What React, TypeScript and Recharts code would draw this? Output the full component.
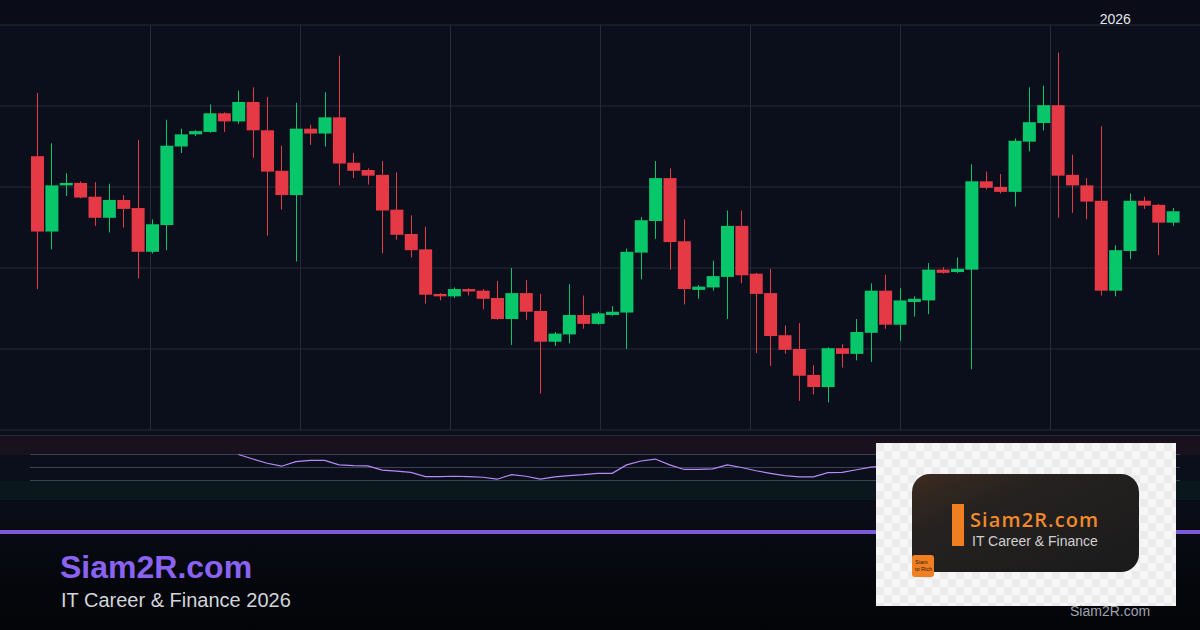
import { ComposedChart, Bar, Line, XAxis, YAxis, CartesianGrid, ReferenceLine } from 'recharts'

const FONT = "'Liberation Sans', Arial, sans-serif"
const BG = '#0b0e1b'
const GRID = '#262b3b'
const UP = '#08c76a'
const DOWN = '#e63946'
const RSI_TOP = 435
const RSI_H = 65

// daily candles (grid step = 10)
const opens = [
  83.8, 74.5, 80.2, 80.5, 78.8, 76.2, 78.4, 77.4, 72.0, 75.3,
  85.0, 86.5, 86.8, 89.1, 88.1, 90.5, 87.0, 82.0, 79.0, 87.2,
  86.6, 88.6, 83.0, 82.1, 81.5, 77.2, 74.2, 72.3, 66.8, 66.5,
  67.4, 67.2, 66.3, 63.7, 66.9, 64.7, 60.9, 61.8, 64.2, 63.1,
  64.2, 64.5, 71.9, 75.8, 81.1, 73.3, 67.3, 67.6, 68.9, 75.2,
  69.3, 66.9, 61.7, 60.0, 56.8, 55.3, 60.1, 59.4, 62.0, 67.2,
  63.0, 65.8, 66.0, 69.8, 69.5, 69.8, 80.7, 80.0, 79.4, 85.6,
  87.9, 90.1, 81.5, 80.2, 78.3, 67.2, 72.1, 78.3, 77.8, 75.6,
]
const highs = [
  91.6, 85.4, 81.7, 80.7, 80.6, 80.4, 79.0, 85.8, 76.0, 88.3,
  87.2, 87.0, 90.2, 89.2, 91.9, 92.3, 91.1, 85.1, 90.4, 87.7,
  91.7, 96.2, 84.2, 82.3, 83.2, 81.8, 76.5, 75.1, 66.9, 67.6,
  67.5, 67.4, 68.4, 70.0, 68.5, 66.8, 62.1, 68.0, 66.6, 64.6,
  65.3, 72.4, 76.3, 83.2, 82.3, 76.0, 67.9, 70.9, 77.1, 77.1,
  69.4, 69.9, 62.9, 63.2, 58.0, 60.2, 60.6, 63.7, 68.1, 69.2,
  67.5, 66.5, 70.6, 70.1, 71.3, 82.8, 81.9, 81.6, 86.0, 92.3,
  92.5, 96.6, 84.0, 81.1, 87.5, 72.8, 79.2, 78.8, 77.9, 77.4,
]
const lows = [
  67.4, 72.3, 78.9, 78.6, 75.2, 74.4, 75.0, 68.7, 71.8, 72.2,
  84.2, 86.3, 86.7, 86.8, 87.8, 83.6, 74.0, 77.2, 70.8, 85.2,
  85.0, 80.2, 81.1, 80.3, 71.8, 73.5, 71.3, 65.6, 66.0, 66.3,
  66.6, 64.9, 63.6, 60.5, 63.6, 54.5, 60.4, 60.7, 62.5, 63.0,
  64.1, 60.0, 68.6, 73.6, 69.8, 65.5, 66.2, 67.2, 63.7, 68.1,
  59.5, 57.9, 59.4, 53.6, 54.4, 53.4, 57.7, 58.6, 58.4, 62.5,
  61.0, 64.0, 64.3, 69.3, 69.4, 57.5, 79.7, 79.2, 77.6, 84.4,
  87.0, 76.2, 76.8, 76.0, 66.6, 66.5, 71.1, 77.3, 71.6, 75.2,
]
const closes = [
  74.5, 80.2, 80.5, 78.7, 76.2, 78.4, 77.3, 72.0, 75.4, 85.1,
  86.5, 86.9, 89.1, 88.1, 90.5, 87.0, 81.9, 79.0, 87.2, 86.6,
  88.6, 82.9, 82.0, 81.4, 77.1, 74.1, 72.2, 66.7, 66.5, 67.4,
  67.1, 66.2, 63.7, 66.9, 64.6, 60.9, 61.9, 64.2, 63.1, 64.4,
  64.6, 72.0, 75.9, 81.1, 73.2, 67.4, 67.7, 69.0, 75.2, 69.1,
  66.8, 61.6, 59.9, 56.7, 55.3, 60.1, 59.4, 62.1, 67.2, 63.0,
  66.0, 66.2, 69.8, 69.4, 69.9, 80.7, 79.9, 79.4, 85.7, 88.0,
  90.1, 81.4, 80.2, 78.2, 67.2, 72.2, 78.3, 77.7, 75.6, 77.0,
]

// RSI(14), first value on the 15th candle
const rsi: (number | null)[] = [
  null, null, null, null, null, null, null, null, null, null, null, null, null, null,
  70, 63, 56.5, 52, 59, 61, 61, 54, 53, 52.5,
  46, 44.5, 42.5, 36, 36, 36.5, 36, 35, 32, 39,
  36.5, 32, 35.5, 37.5, 39, 41, 41, 54, 60, 63,
  54, 47, 47, 48, 54, 50, 45, 41, 37.5, 35.5,
  35.5, 42, 42.5, 46.5, 50.5, 52, 51, 53, 53, 56,
  55, 55, 64, 63, 62, 67, 69, 71, 58, 56,
  53, 44, 49, 54, 53, 55,
]

const priceTicks = [50, 60, 70, 80, 90, 100]
// time grid: 8 equal periods across the full width
const timeTicks = [1, 2, 3, 4, 5, 6, 7]
const TIME_SPAN = 8
const rsiLevels = [70, 50, 30]
const yearMarks = [{ index: 75, label: '2026' }]

const Candle = (props: any) => {
  const { x, y, width, height, payload } = props
  const { open, close, high, low } = payload
  const top = Math.min(y, y + height)
  const h = Math.abs(height)
  const k = h / (high - low)
  const py = (v: number) => top + (high - v) * k
  const color = close >= open ? UP : DOWN
  const bodyTop = py(Math.max(open, close))
  const bodyBot = py(Math.min(open, close))
  const cx = Math.floor(x + width / 2) + 0.5
  return (
    <g>
      <line x1={cx} x2={cx} y1={top} y2={top + h} stroke={color} strokeWidth={1} />
      <rect x={x} y={bodyTop} width={width} height={Math.max(1.5, bodyBot - bodyTop)} fill={color} />
    </g>
  )
}

export default function App() {
  const candles = opens.map((open, i) => ({
    i,
    open,
    high: highs[i],
    low: lows[i],
    close: closes[i],
    range: [lows[i], highs[i]],
  }))
  const rsiData = rsi.map((v, i) => ({ x: i + 0.5, rsi: v }))
  const yearTicks = yearMarks.map((m) => m.index)
  const yearLabel = (v: number) => yearMarks.find((m) => m.index === v)?.label ?? ''
  const rsiY = (v: number) => RSI_TOP + ((100 - v) / 100) * RSI_H
  const timeLines = ({ offset }: any) =>
    timeTicks.map((t) => Math.round(offset.left + (t / TIME_SPAN) * offset.width) + 0.5)

  return (
    <div
      style={{
        position: 'fixed',
        left: 0,
        top: 0,
        width: 1200,
        height: 630,
        overflow: 'hidden',
        background: BG,
        fontFamily: FONT,
      }}
    >
      <div style={{ position: 'absolute', left: 0, top: 0, width: 1200, height: 25, background: '#0a0d18' }} />

      <div style={{ position: 'absolute', left: 0, top: 0 }}>
        <ComposedChart width={1200} height={432} data={candles} margin={{ top: 0, right: 0, bottom: 2, left: 0 }}>
          <XAxis
            dataKey="i"
            orientation="top"
            height={25}
            padding={{ left: 30, right: 20 }}
            ticks={yearTicks}
            interval={0}
            tickFormatter={yearLabel}
            axisLine={false}
            tickLine={false}
            tickSize={0}
            tickMargin={1}
            tick={{ fill: '#e4e6eb', fontSize: 14, fontFamily: FONT }}
          />
          <YAxis domain={[50, 100]} ticks={priceTicks} hide allowDataOverflow />
          <CartesianGrid stroke={GRID} verticalCoordinatesGenerator={timeLines} />
          <Bar dataKey="range" barSize={13} shape={Candle} isAnimationActive={false} />
        </ComposedChart>
      </div>

      {/* RSI panel */}
      <div style={{ position: 'absolute', left: 0, top: RSI_TOP, width: 1200, height: 1, background: '#262b3b' }} />
      <div
        style={{
          position: 'absolute',
          left: 0,
          top: rsiY(100) + 1,
          width: 1200,
          height: rsiY(70) - rsiY(100) - 1,
          background: '#19121e',
        }}
      />
      <div
        style={{
          position: 'absolute',
          left: 0,
          top: rsiY(30),
          width: 1200,
          height: rsiY(0) - rsiY(30),
          background: '#0a181e',
        }}
      />
      <div style={{ position: 'absolute', left: 0, top: RSI_TOP }}>
        <ComposedChart width={1200} height={RSI_H} data={rsiData} margin={{ top: 0, right: 0, bottom: 0, left: 0 }}>
          <XAxis dataKey="x" type="number" domain={[0, 80]} padding={{ left: 30, right: 20 }} hide />
          <YAxis domain={[0, 100]} hide />
          {rsiLevels.map((lv) => (
            <ReferenceLine
              key={lv}
              segment={[
                { x: 0, y: lv },
                { x: 80, y: lv },
              ]}
              stroke="#3a4152"
              strokeWidth={1}
            />
          ))}
          <Line
            dataKey="rsi"
            type="linear"
            stroke="#b98af6"
            strokeWidth={1.2}
            dot={false}
            isAnimationActive={false}
          />
        </ComposedChart>
      </div>

      {/* footer */}
      <div
        style={{
          position: 'absolute',
          left: 0,
          top: 500,
          width: 1200,
          height: 130,
          background: 'linear-gradient(180deg, #0a0d18 0%, #080a13 30%, #030407 100%)',
        }}
      />
      <div style={{ position: 'absolute', left: 0, top: 530, width: 1200, height: 4, background: '#7d5ad8' }} />
      <svg style={{ position: 'absolute', left: 0, top: 0 }} width={1200} height={630}>
        <text x={60} y={578} fill="#8a63f2" fontSize={32} fontWeight={700} fontFamily={FONT}>
          Siam2R.com
        </text>
        <text x={61} y={607} fill="#d2d5db" fontSize={20} fontFamily={FONT}>
          IT Career &amp; Finance 2026
        </text>
      </svg>

      {/* logo */}
      <svg style={{ position: 'absolute', left: 876, top: 443 }} width={300} height={163}>
        <defs>
          <pattern id="checker" width={16} height={16} patternUnits="userSpaceOnUse">
            <rect width={16} height={16} fill="#f6f6f6" />
            <rect width={8} height={8} fill="#ebebeb" />
            <rect x={8} y={8} width={8} height={8} fill="#ebebeb" />
          </pattern>
          <linearGradient id="card" x1="0" y1="0" x2="1" y2="1">
            <stop offset="0%" stopColor="#3b2b1f" />
            <stop offset="35%" stopColor="#242120" />
            <stop offset="100%" stopColor="#1b1b1b" />
          </linearGradient>
        </defs>
        <rect width={300} height={163} fill="url(#checker)" />
        <rect x={36} y={31} width={227} height={98} rx={18} fill="url(#card)" />
        <rect x={76} y={61} width={12} height={42} fill="#f07f22" />
        <text x={94} y={84} fill="#f08a2c" fontSize={20} fontWeight={600} letterSpacing={1.1} fontFamily="'Open Sans', sans-serif">
          Siam2R.com
        </text>
        <text x={96} y={103} fill="#d0d0d0" fontSize={14} fontFamily={FONT}>
          IT Career &amp; Finance
        </text>
        <rect x={36} y={112} width={22} height={22} rx={3} fill="#f07f22" />
        <text x={39} y={121} fill="#2a1a0e" fontSize={5.5} fontFamily={FONT}>
          Siam
        </text>
        <text x={39} y={128} fill="#2a1a0e" fontSize={5.5} fontFamily={FONT}>
          to Rich
        </text>
      </svg>
      <svg style={{ position: 'absolute', left: 0, top: 0, pointerEvents: 'none' }} width={1200} height={630}>
        <text x={1070} y={616} fill="#9ea3ad" fontSize={14} fontFamily={FONT}>
          Siam2R.com
        </text>
      </svg>
    </div>
  )
}
